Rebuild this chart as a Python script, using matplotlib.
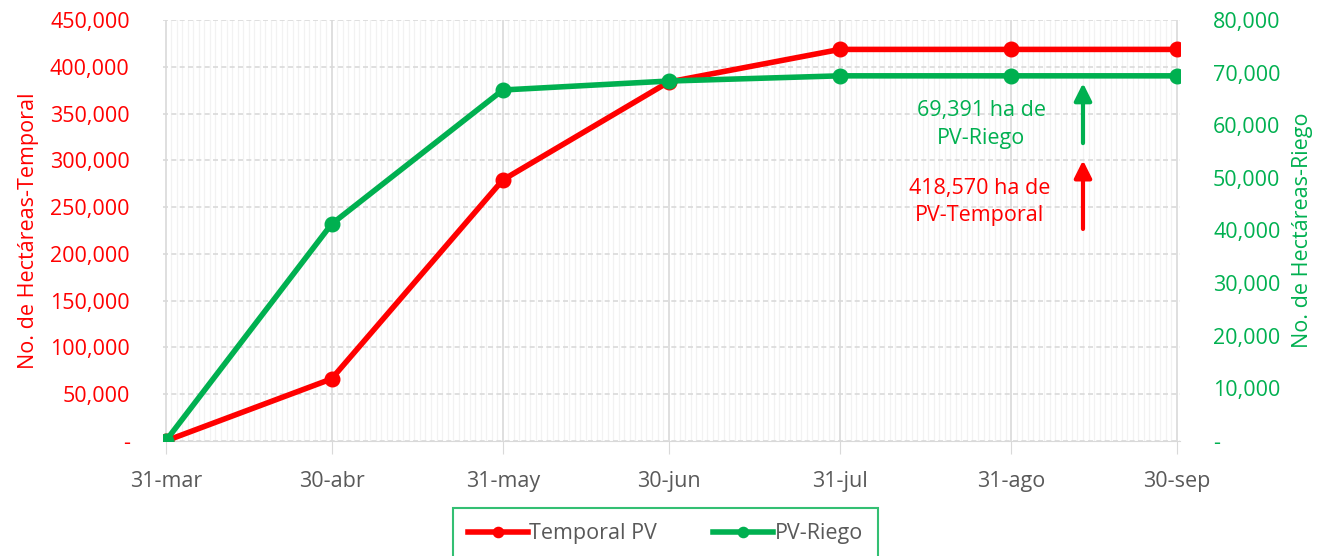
import matplotlib

matplotlib.use("Agg")
import matplotlib.dates as mdates
import matplotlib.pyplot as plt
import numpy as np
from matplotlib.ticker import FixedLocator, FuncFormatter

plt.rcParams["font.family"] = ["Open Sans", "DejaVu Sans"]

# data (hectares, cumulative)
fechas = np.array(
    ["2021-03-31", "2021-04-30", "2021-05-31", "2021-06-30",
     "2021-07-31", "2021-08-31", "2021-09-30"], dtype="datetime64[D]")
etiquetas_x = ["31-mar", "30-abr", "31-may", "30-jun", "31-jul", "31-ago", "30-sep"]
temporal_pv = [0, 66300, 279000, 383700, 418570, 418570, 418570]
pv_riego = [0, 41200, 66700, 68400, 69391, 69391, 69391]

RED = "#FF0000"
GREEN = "#00B050"
GRAY = "#595959"
FS = 15.5

x = mdates.date2num(fechas)

fig = plt.figure(figsize=(13.36, 5.56), dpi=100)
ax = fig.add_axes([0.122, 0.207, 0.761, 0.757])
ax2 = ax.twinx()

# grid: daily minor lines, month-end major lines, dashed horizontals
ax.set_xlim(x[0] - 0.5, x[-1] + 0.5)
ax.xaxis.set_major_locator(FixedLocator(x))
ax.set_xticklabels(etiquetas_x)
ax.xaxis.set_minor_locator(mdates.DayLocator())
ax.grid(which="minor", axis="x", color="#F2F2F2", lw=0.9)
ax.grid(which="major", axis="x", color="#D9D9D9", lw=1.2)
ax.grid(which="major", axis="y", color="#D9D9D9", lw=1.2, ls=(0, (3, 2)))
ax.set_axisbelow(True)

fmt = FuncFormatter(lambda v, p: "-" if v == 0 else f"{v:,.0f}")
ax.set_ylim(0, 450000)
ax.set_yticks(np.arange(0, 450001, 50000))
ax.yaxis.set_major_formatter(fmt)
ax2.set_ylim(0, 80000)
ax2.set_yticks(np.arange(0, 80001, 10000))
ax2.yaxis.set_major_formatter(fmt)

for a in (ax, ax2):
    for s in a.spines.values():
        s.set_visible(False)
ax.spines["bottom"].set_visible(True)
ax.spines["bottom"].set_color("#D9D9D9")

ax.tick_params(axis="x", which="major", length=9, color="#D9D9D9", pad=13,
               labelsize=FS, labelcolor=GRAY)
ax.tick_params(axis="x", which="minor", length=0)
ax.tick_params(axis="y", length=0, pad=24, labelsize=FS, labelcolor=RED)
ax2.tick_params(axis="y", length=0, pad=24, labelsize=FS, labelcolor=GREEN)

ax.set_ylabel("No. de Hectáreas-Temporal", color=RED, fontsize=FS, labelpad=8)
ax2.set_ylabel("No. de Hectáreas-Riego", color=GREEN, fontsize=FS, labelpad=8)

l1, = ax.plot(x, temporal_pv, color=RED, lw=4, marker="o", ms=10.5,
              label="Temporal PV", zorder=3)
l2, = ax2.plot(x, pv_riego, color=GREEN, lw=4, marker="o", ms=10.5,
               label="PV-Riego", zorder=3)

# annotations
xa = mdates.date2num(np.datetime64("2021-09-13"))
ax2.annotate("", xy=(xa, 68000), xytext=(xa, 56600),
             arrowprops=dict(arrowstyle="-|>", color=GREEN, lw=3, mutation_scale=26,
                             shrinkA=0, shrinkB=0))
ax.annotate("", xy=(xa, 300000), xytext=(xa, 226600),
            arrowprops=dict(arrowstyle="-|>", color=RED, lw=3, mutation_scale=26,
                            shrinkA=0, shrinkB=0))
ax.text(0.805, 0.752, "69,391 ha de\nPV-Riego", transform=ax.transAxes, color=GREEN,
        fontsize=FS, ha="center", va="center", linespacing=1.4)
ax.text(0.803, 0.568, "418,570 ha de\nPV-Temporal", transform=ax.transAxes, color=RED,
        fontsize=FS, ha="center", va="center", linespacing=1.4)

leg = fig.legend(handles=[l1, l2], loc="upper center", bbox_to_anchor=(0.498, 0.086),
                 ncol=2, frameon=True, fontsize=FS, handlelength=2.8,
                 handletextpad=0.05, columnspacing=2.6, borderpad=0.7,
                 borderaxespad=0, fancybox=False, labelcolor=GRAY, markerscale=0.7)
leg.get_frame().set_edgecolor(GREEN)
leg.get_frame().set_linewidth(1.5)

fig.savefig("out.png", dpi=100)
